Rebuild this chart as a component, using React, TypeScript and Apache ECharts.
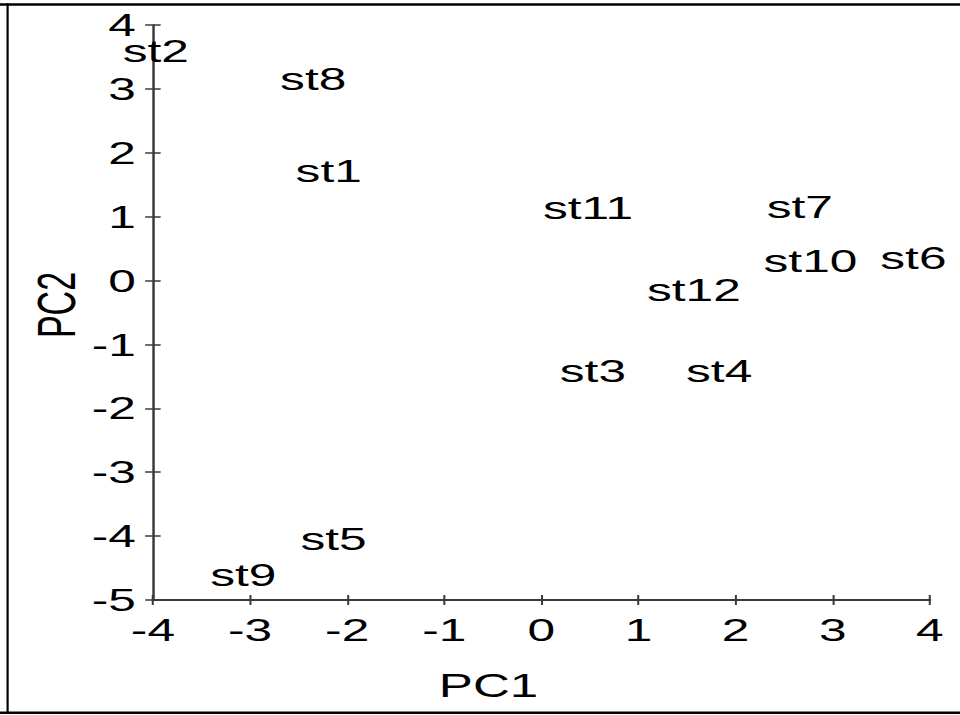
import React, { useEffect, useRef } from "react";
import * as echarts from "echarts";

const names = ["st1", "st2", "st3", "st4", "st5", "st6", "st7", "st8", "st9", "st10", "st11", "st12"];
const pc1 = [-2.19, -3.97, 0.53, 1.83, -2.14, 3.83, 2.66, -2.35, -3.07, 2.77, 0.48, 1.57];
const pc2 = [1.72, 3.6, -1.41, -1.41, -4.05, 0.36, 1.16, 3.15, -4.6, 0.31, 1.14, -0.14];
const xTicks = { min: -4, max: 4, step: 1 };
const yTicks = { min: -5, max: 4, step: 1 };

const CHART_W = 619;
const CHART_H = 715;
const SCALE = 960 / CHART_W;
const FONT = "Liberation Sans, Arial, sans-serif";
const AXIS_COLOR = "#3a3a3a";

export default function App() {
  const ref = useRef<HTMLDivElement>(null);
  useEffect(() => {
    if (!ref.current) return;
    const chart = echarts.init(ref.current, undefined, { renderer: "svg" });
    const baseX = {
      type: "value" as const,
      min: xTicks.min,
      max: xTicks.max,
      interval: xTicks.step,
      position: "bottom" as const,
      splitLine: { show: false },
    };
    const baseY = {
      type: "value" as const,
      min: yTicks.min,
      max: yTicks.max,
      interval: yTicks.step,
      position: "left" as const,
      splitLine: { show: false },
    };
    const tickStyle = { color: AXIS_COLOR, width: 1.3 };
    chart.setOption({
      animation: false,
      backgroundColor: "#ffffff",
      grid: { left: 98.6, right: 19.4, top: 25, bottom: 115, containLabel: false },
      xAxis: [
        {
          ...baseX,
          axisLine: { show: true, onZero: false, lineStyle: { color: AXIS_COLOR, width: 1.8 } },
          axisTick: { show: true, length: 5, lineStyle: tickStyle },
          axisLabel: { color: "#000", fontSize: 32, fontFamily: FONT, margin: 14 },
        },
        {
          ...baseX,
          axisLine: { show: false, onZero: false },
          axisTick: { show: true, inside: true, length: 5, lineStyle: tickStyle },
          axisLabel: { show: false },
        },
      ],
      yAxis: [
        {
          ...baseY,
          axisLine: { show: true, onZero: false, lineStyle: { color: AXIS_COLOR, width: 1.6 } },
          axisTick: { show: true, length: 5, lineStyle: { color: AXIS_COLOR, width: 1.5 } },
          axisLabel: { color: "#000", fontSize: 32, fontFamily: FONT, margin: 11 },
        },
        {
          ...baseY,
          axisLine: { show: false, onZero: false },
          axisTick: { show: true, inside: true, length: 5, lineStyle: { color: AXIS_COLOR, width: 1.5 } },
          axisLabel: { show: false },
        },
      ],
      graphic: [
        {
          type: "line",
          shape: { x1: 0, y1: 4.5, x2: CHART_W, y2: 4.5 },
          style: { stroke: "#000", lineWidth: 2.5 },
        },
        {
          type: "line",
          shape: { x1: 0, y1: 712.8, x2: CHART_W, y2: 712.8 },
          style: { stroke: "#000", lineWidth: 2.5 },
        },
        {
          type: "line",
          shape: { x1: 4.9, y1: 3.3, x2: 4.9, y2: 714 },
          style: { stroke: "#000", lineWidth: 1.4 },
        },
        {
          type: "text",
          x: 315,
          y: 686,
          style: {
            text: "PC1",
            fontSize: 33,
            fontFamily: FONT,
            fill: "#000",
            align: "center",
            verticalAlign: "middle",
          },
        },
        {
          type: "text",
          x: 36.8,
          y: 305,
          rotation: Math.PI / 2,
          style: {
            text: "PC2",
            fontSize: 34,
            fontFamily: FONT,
            fill: "#000",
            align: "center",
            verticalAlign: "middle",
          },
        },
      ],
      series: [
        {
          type: "scatter",
          xAxisIndex: 0,
          yAxisIndex: 0,
          symbolSize: 0,
          itemStyle: { color: "#000", opacity: 1 },
          data: names.map((n, i) => ({ name: n, value: [pc1[i], pc2[i]] })),
          label: {
            show: true,
            position: [0, 0],
            formatter: (p: any) => p.name,
            color: "#000",
            opacity: 1,
            textBorderWidth: 0,
            fontSize: 32,
            fontFamily: FONT,
            align: "center",
            verticalAlign: "middle",
          },
          labelLayout: { hideOverlap: false },
          emphasis: { disabled: true },
        },
      ],
    });
    return () => chart.dispose();
  }, []);
  return (
    <div
      ref={ref}
      style={{
        position: "absolute",
        left: 0,
        top: 0,
        width: CHART_W,
        height: CHART_H,
        transform: `scaleX(${SCALE})`,
        transformOrigin: "0 0",
      }}
    />
  );
}
